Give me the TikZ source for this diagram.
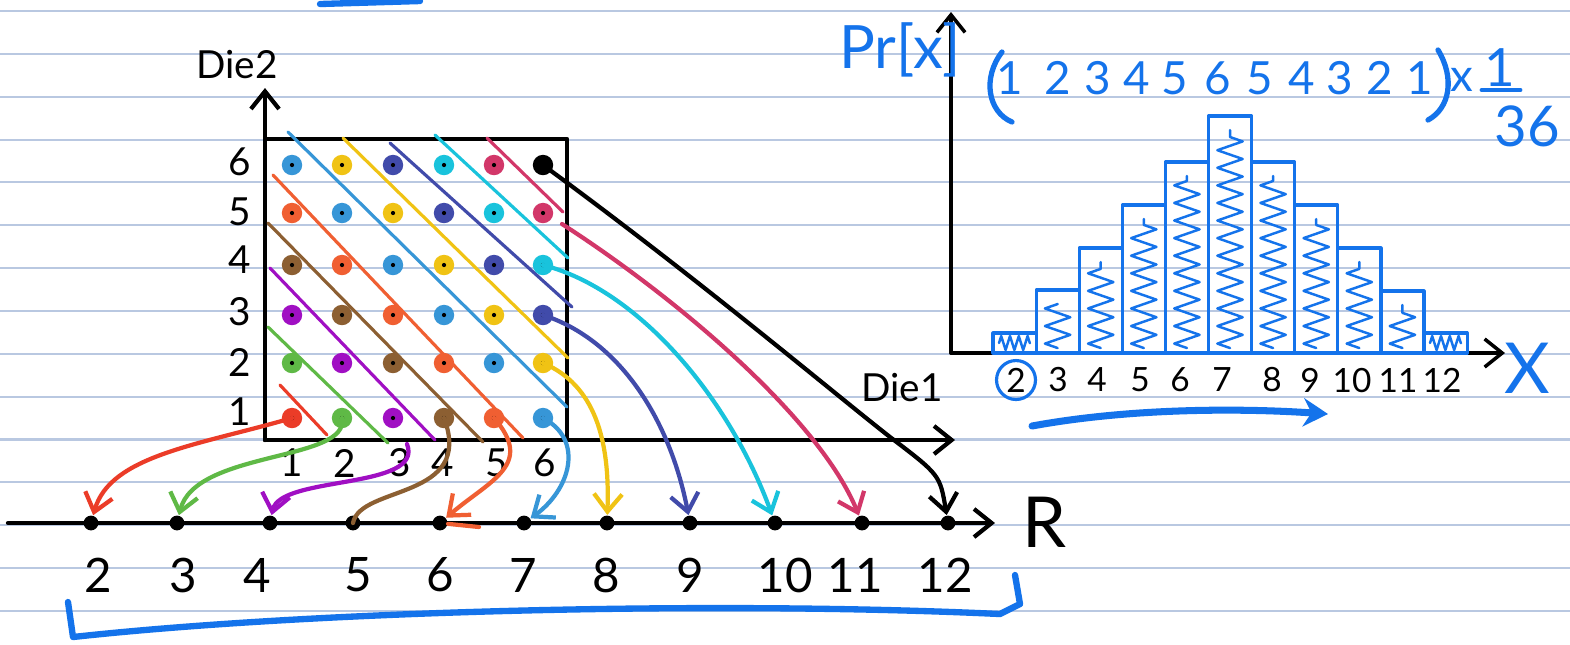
\documentclass[tikz,border=0pt]{standalone}
\usepackage{fontspec}
\setmainfont{Lato}
\usepackage{tikz}
\usetikzlibrary{arrows.meta,decorations.pathmorphing}
\definecolor{ruleblue}{RGB}{185,200,225}
\definecolor{inkblue}{RGB}{20,115,235}
\definecolor{s2}{RGB}{235,60,40}
\definecolor{s3}{RGB}{95,185,70}
\definecolor{s4}{RGB}{160,15,195}
\definecolor{s5}{RGB}{140,95,50}
\definecolor{s6}{RGB}{240,95,50}
\definecolor{s7}{RGB}{55,150,215}
\definecolor{s8}{RGB}{240,195,20}
\definecolor{s9}{RGB}{65,75,170}
\definecolor{s10}{RGB}{25,195,220}
\definecolor{s11}{RGB}{210,55,105}
\definecolor{s12}{RGB}{0,0,0}

\begin{document}
\begin{tikzpicture}[x=0.01cm,y=-0.01cm,
          line cap=round,line join=round,
          rule/.style={draw=ruleblue,line width=0.6pt},
          axis/.style={draw=black,line width=1.2pt},
          axtip/.style={-{Straight Barb[length=5pt,width=8pt]}},
          sumline/.style={line width=0.9pt},
          carry/.style={line width=1.2pt,-{Straight Barb[length=5pt,width=8pt]}},
          dot/.style={circle,inner sep=0pt,minimum size=5.8pt},
          tick/.style={circle,fill=black,inner sep=0pt,minimum size=4.2pt},
          hand/.style={font=\fontsize{11}{11}\selectfont},
          small/.style={font=\fontsize{9.5}{9.5}\selectfont},
          big/.style={font=\fontsize{13.5}{13.5}\selectfont},
          count/.style={text=inkblue,font=\fontsize{13}{13}\selectfont},
          bar/.style={draw=inkblue,line width=0.9pt},
          scribble/.style={draw=inkblue,line width=0.7pt,decorate,
                           decoration={zigzag,segment length=5pt,amplitude=3.6pt}}]
        \fill[white] (0,0) rectangle (1570,644);
        \useasboundingbox (0,0) rectangle (1570,644);
        \foreach \k in {0,...,14}
          \draw[rule] (0,{11+42.85*\k}) -- (1570,{11+42.85*\k});
        \draw[inkblue,line width=1.8pt] (320,4) -- (420,1);

        % dice grid
        \draw[axis] (265,139) rectangle (567,440);
        \draw[axis,axtip] (265,440) -- (265,88);
        \draw[axis,axtip] (265,440) -- (955,440);
        \node[hand] (die2) at (237,65) {Die2};
        \node[hand] (die1) at (902,388) {Die1};
        \foreach \j/\y in {1/412,2/362,3/312,4/260,5/212,6/162}
          \node[hand] (yl-\j) at (240,\y) {\j};
        \foreach \i/\x in {1/292,2/345,3/400,4/443,5/497,6/545}
          \node[hand] (xl-\i) at (\x,463) {\i};

        \foreach \s/\ax/\ay/\bx/\by in {2/280/385/327/435,3/268/327/388/443,
            4/270/268/435/440,5/268/223/483/442,6/273/175/523/438,
            7/288/132/567/407,8/343/138/568/358,9/390/143/572/307,
            10/435/135/568/258,11/487/138/563/212}
          \draw[sumline,s\s] (\ax,\ay) -- (\bx,\by);

        \foreach \i/\x in {1/292,2/342,3/393,4/444,5/494,6/543}
          \foreach \j/\y in {1/418,2/363,3/315,4/265,5/213,6/165}{
            \pgfmathtruncatemacro\s{\i+\j}
            \node[dot,fill=s\s] (d-\i-\j) at (\x,\y) {};
            \fill (d-\i-\j) circle (0.6pt);
          }

        % sums line
        \draw[axis,axtip] (8,523) -- (995,523);
        \foreach \k/\x in {2/91,3/177,4/270,5/353,6/440,7/524,8/607,9/690,10/775,11/862,12/948}
          \node[tick] (r-\k) at (\x,523) {};
        \foreach \k/\x in {2/98,3/183,4/257,5/358,6/440,7/523,8/606,9/690,10/785,11/855,12/945}
          \node[big] (rl-\k) at (\x,575) {\k};
        \node[font=\fontsize{20}{20}\selectfont] (rlab) at (1045,522) {R};

        \coordinate (p4) at (407,444);
        \coordinate (p11) at (562,224);
        \coordinate (k12) at (890,437);
        \coordinate (t6) at (479,527);
        \draw[carry,s2] (d-1-1.center) .. controls (200,445) and (110,455) .. (r-2);
        \draw[carry,s3] (d-2-1.center) .. controls (350,462) and (195,450) .. (r-3);
        \draw[carry,s4] (p4) .. controls (425,490) and (280,475) .. (r-4);
        \draw[line width=1.2pt,s5] (d-4-1.center) .. controls (475,500) and (360,485) .. (r-5.center);
        \draw[carry,s6] (d-5-1.center) .. controls (535,465) and (490,480) .. (r-6);
        \draw[line width=1.2pt,s6] (r-6) -- (t6);
        \draw[carry,s7] (d-6-1.center) .. controls (585,440) and (570,490) .. (r-7);
        \draw[carry,s8] (d-6-2.center) .. controls (595,385) and (610,440) .. (r-8);
        \draw[carry,s9] (d-6-3.center) .. controls (620,340) and (670,420) .. (r-9);
        \draw[carry,s10] (d-6-4.center) .. controls (640,290) and (730,400) .. (r-10);
        \draw[carry,s11] (p11) .. controls (680,300) and (820,420) .. (r-11);
        \draw[carry,s12] (d-6-6.center) .. controls (700,280) and (830,390) .. (k12)
          .. controls (940,475) .. (r-12);

        \draw[inkblue,line width=1.8pt] (68,602) -- (73,637)
          .. controls (300,612) and (700,600) .. (1000,614) -- (1020,604) -- (1015,575);

        % histogram
        \draw[line width=1pt,axtip] (951,353) -- (951,12);
        \draw[line width=1pt,axtip] (951,353) -- (1505,353);
        \node[text=inkblue,font=\fontsize{17}{17}\selectfont] (prx) at (900,50) {Pr[x]};
        \node[text=inkblue,font=\fontsize{20}{20}\selectfont] (xlab) at (1527,368) {X};
        \foreach \top [count=\c from 0] in {333,290,248,205,162,116,162,205,248,291,333}{
          \pgfmathsetmacro\xl{993+43.1*\c}
          \draw[bar] (\xl,353) rectangle ({\xl+43.1},\top);
          \ifdim\top pt<300pt
            \draw[scribble] ({\xl+21.5},348) -- ({\xl+21.5},{\top+14});
          \else
            \draw[scribble,decoration={zigzag,segment length=2.5pt,amplitude=2pt}]
              ({\xl+6},343) -- ({\xl+37},343);
          \fi
        }
        \node[small,draw=inkblue,circle,line width=0.9pt,inner sep=0.8pt] (hx-2) at (1016,380) {2};
        \foreach \k/\x in {3/1058,4/1097,5/1140,6/1180,7/1222,8/1272,9/1310,10/1352,11/1398,12/1442}
          \node[small] (hx-\k) at (\x,380) {\k};
        \coordinate (sweep-a) at (1032,426);
        \coordinate (sweep-b) at (1328,414);
        \draw[inkblue,line width=2pt,-{Stealth[length=7pt,width=8pt]}]
          (sweep-a) .. controls (1130,408) and (1240,408) .. (sweep-b);

        \foreach \v/\x [count=\c] in {1/1010,2/1058,3/1098,4/1137,5/1175,6/1218,5/1260,4/1302,3/1340,2/1380,1/1420}
          \node[count] (cnt-\c) at (\x,78) {\v};
        \draw[inkblue,line width=1.5pt] (1002,52) .. controls (982,78) and (988,112) .. (1012,122);
        \draw[inkblue,line width=1.5pt] (1438,50) .. controls (1455,78) and (1450,108) .. (1428,120);
        \node[count] (times) at (1462,80) {x};
        \node[count,font=\fontsize{15}{15}\selectfont] (num) at (1500,68) {1};
        \draw[inkblue,line width=1.4pt] (1482,90) -- (1520,90);
        \node[count,font=\fontsize{16}{16}\selectfont] (den) at (1527,126) {36};
      \end{tikzpicture}
\end{document}
